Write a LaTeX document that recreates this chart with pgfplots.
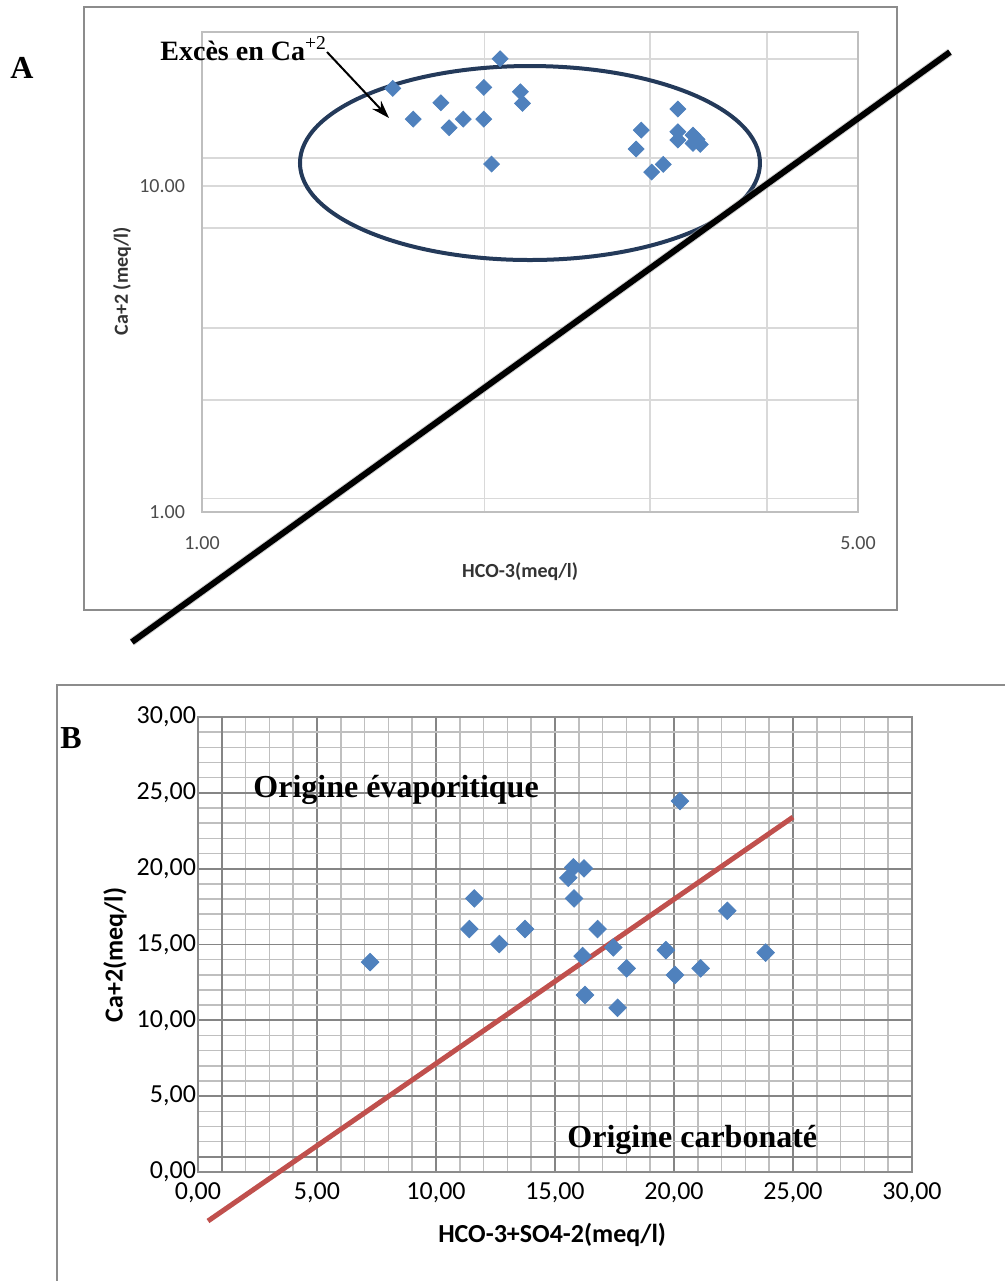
\documentclass[border=0pt]{standalone}
\usepackage{pgfplots}
\pgfplotsset{compat=1.18}
\usepackage{fontspec}
\setmainfont{Liberation Serif}
\setsansfont{Carlito}
\usetikzlibrary{arrows.meta}
\definecolor{xlblue}{RGB}{79,129,189}
\definecolor{xlred}{RGB}{192,80,77}
\definecolor{ringcol}{RGB}{36,58,90}

\begin{document}
\begin{tikzpicture}
\useasboundingbox (0pt,0pt) rectangle (502.5pt,-640.5pt);
%% panel frames (pixel grid: 1px = 0.5pt, y downwards)
\begin{scope}[x=0.5pt,y=-0.5pt]
  \draw[black!45, line width=1pt] (84,7) rectangle (897,610);
  \draw[black!45, line width=1pt] (57,1281) -- (57,685) -- (1005,685);
\end{scope}

%% ---- panel A: log-log
\begin{axis}[
  at={(101pt,-256pt)}, anchor=south west,
  scale only axis, width=328pt, height=240pt,
  xmode=log, ymode=log,
  xmin=1, xmax=5, ymin=1, ymax=29.7,
  clip=false,
  axis line style={black!25, line width=0.6pt},
  xtick={1,2,3,4,5}, xticklabels={1.00,,,,5.00},
  ytick={1,1.10,2.21,3.67,7.43,10,12.19,24.5},
  yticklabels={1.00,,,,,10.00,,},
  major tick length=0pt, minor tick length=0pt,
  grid=major,
  major grid style={black!15, line width=0.9pt},
  tick label style={font=\sffamily\fontsize{10}{12}\selectfont, text=black!70},
  xticklabel style={yshift=-8.5pt},
  yticklabel style={xshift=-5pt},
  label style={font=\sffamily\bfseries\fontsize{10}{12}\selectfont, text=black!80},
  xlabel={HCO-3(meq/l)},
  ylabel={Ca+2 (meq/l)},
  x label style={at={(axis description cs:0.485,-0.125)}, anchor=center},
  y label style={at={(axis description cs:-0.122,0.481)}, anchor=center},
]
\addplot[only marks, mark=square*, mark size=2.8pt,
  mark options={rotate=45, draw=xlblue, fill=xlblue}]
  coordinates {
    (1.597,19.94) (1.679,16.05) (1.797,18.01) (1.834,15.10) (1.899,16.05)
    (1.997,20.08) (1.997,16.05) (2.035,11.68) (2.078,24.58) (2.184,19.47)
    (2.195,17.94) (2.901,12.99) (2.938,14.85) (3.014,11.04) (3.101,11.66)
    (3.214,17.23) (3.214,14.68) (3.214,13.84) (3.336,14.33) (3.336,13.52)
    (3.369,13.91) (3.396,13.43)
  };
\draw[ringcol, line width=2pt] (axis cs:2.236,11.77) ellipse [x radius=115pt, y radius=48.5pt];
\addplot[black!35, line width=4pt, opacity=0.5, no marks] coordinates {(0.842,0.399) (6.266,25.77)};
\addplot[black, line width=3pt, no marks] coordinates {(0.842,0.399) (6.266,25.77)};
\end{axis}

%% ---- panel B: linear
\begin{axis}[
  at={(99pt,-586pt)}, anchor=south west,
  scale only axis, width=357pt, height=227.5pt,
  xmin=0, xmax=30, ymin=0, ymax=30,
  clip=false,
  xtick={0,5,...,30}, ytick={0,5,...,30},
  minor tick num=4,
  major tick length=0pt, minor tick length=0pt,
  grid=both,
  major grid style={black!48, line width=0.9pt},
  minor grid style={black!25, line width=0.8pt},
  axis line style={black!45, line width=0.9pt},
  extra x ticks={1}, extra y ticks={1},
  extra x tick labels={}, extra y tick labels={},
  extra tick style={grid=major},
  /pgf/number format/fixed,
  /pgf/number format/fixed zerofill,
  /pgf/number format/precision=2,
  /pgf/number format/use comma,
  /pgf/number format/assume math mode=true,
  tick label style={font=\sffamily\fontsize{13}{15}\selectfont},
  xticklabel style={yshift=-2pt},
  yticklabel style={xshift=2.5pt},
  label style={font=\sffamily\bfseries\fontsize{13}{15}\selectfont},
  xlabel={HCO-3+SO4-2(meq/l)},
  ylabel={Ca+2(meq/l)},
  x label style={at={(axis description cs:0.496,-0.1385)}, anchor=center},
  y label style={at={(axis description cs:-0.1162,0.477)}, anchor=center},
]
\addplot[only marks, mark=square*, mark size=3.1pt,
  mark options={rotate=45, draw=xlblue, fill=xlblue}]
  coordinates {
    (7.23,13.84) (11.40,16.02) (11.61,18.04) (12.66,15.03) (13.74,16.02)
    (15.56,19.40) (15.77,20.09) (15.80,18.04) (16.22,20.02) (16.16,14.24)
    (16.26,11.67) (16.79,16.02) (17.45,14.81) (18.01,13.43) (17.63,10.83)
    (19.66,14.63) (20.04,12.99) (20.25,24.46) (21.12,13.43) (22.24,17.22)
    (23.85,14.46)
  };
\addplot[xlred, line width=2.5pt, no marks] coordinates {(0.42,-3.23) (25.0,23.40)};
\end{axis}

%% ---- annotations
\begin{scope}[x=0.5pt,y=-0.5pt]
  \node[anchor=base west, inner sep=0pt, font=\bfseries\fontsize{16}{19}\selectfont] at (10,78) {A};
  \node[anchor=base west, inner sep=0pt, font=\bfseries\fontsize{16}{19}\selectfont] at (60,748) {B};
  \node[anchor=base west, inner sep=0pt, font=\bfseries\fontsize{14}{17}\selectfont]
    at (160,60) {Excès en Ca\textsuperscript{\mdseries +2}};
  \draw[black, line width=1pt, -{Stealth[length=9pt,width=6pt]}] (327,52) -- (389,118);
  \node[anchor=base west, inner sep=0pt, font=\bfseries\fontsize{16}{19}\selectfont]
    at (253,797) {Origine évaporitique};
  \node[anchor=base west, inner sep=0pt, font=\bfseries\fontsize{16}{19}\selectfont]
    at (567,1147) {Origine carbonaté};
\end{scope}
\end{tikzpicture}
\end{document}
